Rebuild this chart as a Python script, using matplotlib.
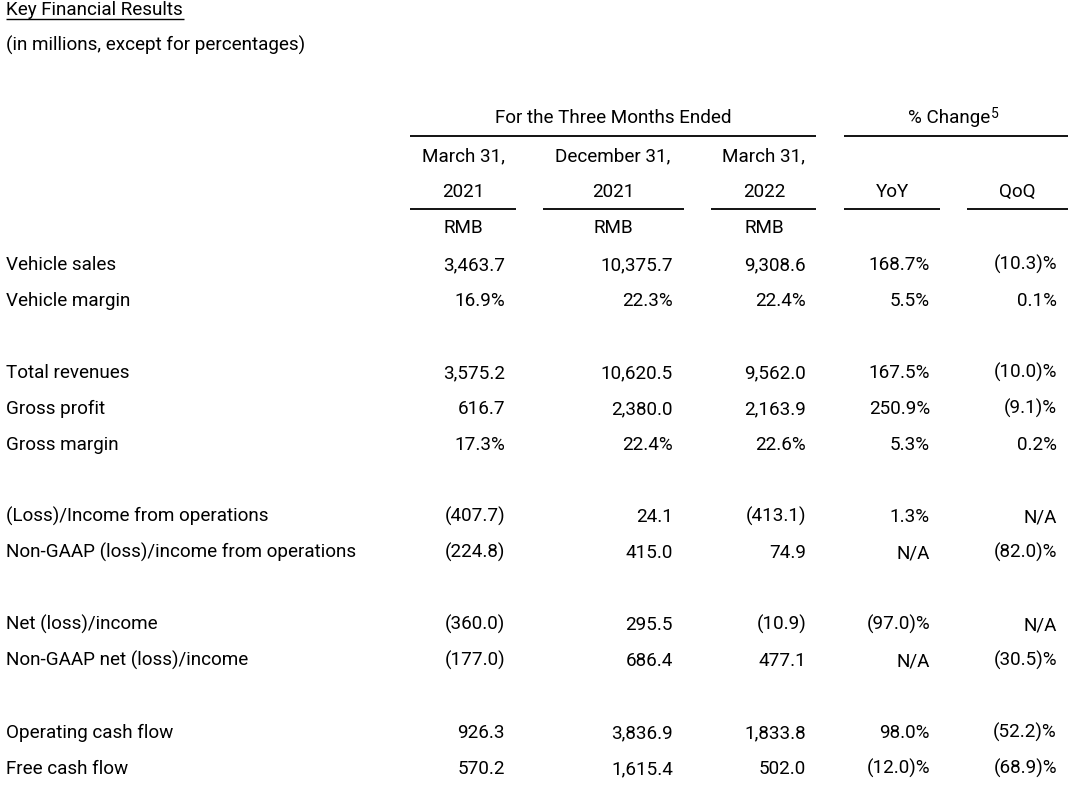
import matplotlib
matplotlib.use("Agg")
import matplotlib.pyplot as plt

plt.rcParams["font.family"] = ["Roboto", "DejaVu Sans"]

title = "Key Financial Results"
subtitle = "(in millions, except for percentages)"
period_heads = [("March 31,", "2021"), ("December 31,", "2021"), ("March 31,", "2022")]
change_heads = ["YoY", "QoQ"]

# None marks a blank spacer row between groups
labels = [
    "Vehicle sales", "Vehicle margin", None,
    "Total revenues", "Gross profit", "Gross margin", None,
    "(Loss)/Income from operations", "Non-GAAP (loss)/income from operations", None,
    "Net (loss)/income", "Non-GAAP net (loss)/income", None,
    "Operating cash flow", "Free cash flow",
]
q1_2021 = ["3,463.7", "16.9%", None, "3,575.2", "616.7", "17.3%", None,
           "(407.7)", "(224.8)", None, "(360.0)", "(177.0)", None, "926.3", "570.2"]
q4_2021 = ["10,375.7", "22.3%", None, "10,620.5", "2,380.0", "22.4%", None,
           "24.1", "415.0", None, "295.5", "686.4", None, "3,836.9", "1,615.4"]
q1_2022 = ["9,308.6", "22.4%", None, "9,562.0", "2,163.9", "22.6%", None,
           "(413.1)", "74.9", None, "(10.9)", "477.1", None, "1,833.8", "502.0"]
yoy = ["168.7%", "5.5%", None, "167.5%", "250.9%", "5.3%", None,
       "1.3%", "N/A", None, "(97.0)%", "N/A", None, "98.0%", "(12.0)%"]
qoq = ["(10.3)%", "0.1%", None, "(10.0)%", "(9.1)%", "0.2%", None,
       "N/A", "(82.0)%", None, "N/A", "(30.5)%", None, "(52.2)%", "(68.9)%"]

W, H = 1069, 788
fig = plt.figure(figsize=(W / 100, H / 100), dpi=100)
ax = fig.add_axes([0, 0, 1, 1])
ax.set_xlim(0, W)
ax.set_ylim(H, 0)
ax.axis("off")

fs = 13.6
ink = "#000000"

def txt(x, y, s, ha="left", size=fs, **kw):
    # y is the visual middle of the line; place by baseline so rows align
    ax.text(x, y + 6, s, ha=ha, va="baseline", fontsize=size, color=ink, **kw)

def rule(x0, x1, y, lw=1.3):
    ax.plot([x0, x1], [y, y], color=ink, lw=lw, solid_capstyle="butt")

# title block
txt(6, 9, title)
rule(6, 184, 19, lw=1.0)
txt(6, 45, subtitle)

# column headers
txt(613, 117, "For the Three Months Ended", ha="center")
rule(410, 816, 136)
txt(990, 117, "% Change", ha="right")
ax.text(991, 118, "5", ha="left", va="baseline", fontsize=10, color=ink)
rule(844, 1068, 136)

col_centers = [463, 613, 764]
col_spans = [(410, 516), (543, 684), (711, 816)]
for (l1, l2), cx, (a, b) in zip(period_heads, col_centers, col_spans):
    txt(cx, 155, l1, ha="center")
    txt(cx, 191, l2, ha="center")
    rule(a, b, 209)
    txt(cx, 227, "RMB", ha="center")

for name, cx, (a, b) in zip(change_heads, [892, 1017], [(844, 940), (967, 1068)]):
    txt(cx, 191, name, ha="center")
    rule(a, b, 209)

# body rows
right_edges = [505, 673, 806, 930, 1057]
y = 264
for i, lab in enumerate(labels):
    if lab is not None:
        txt(6, y, lab)
        for xr, col in zip(right_edges, [q1_2021, q4_2021, q1_2022, yoy, qoq]):
            txt(xr, y, col[i], ha="right")
    y += 36

fig.savefig("out.png", dpi=100)
